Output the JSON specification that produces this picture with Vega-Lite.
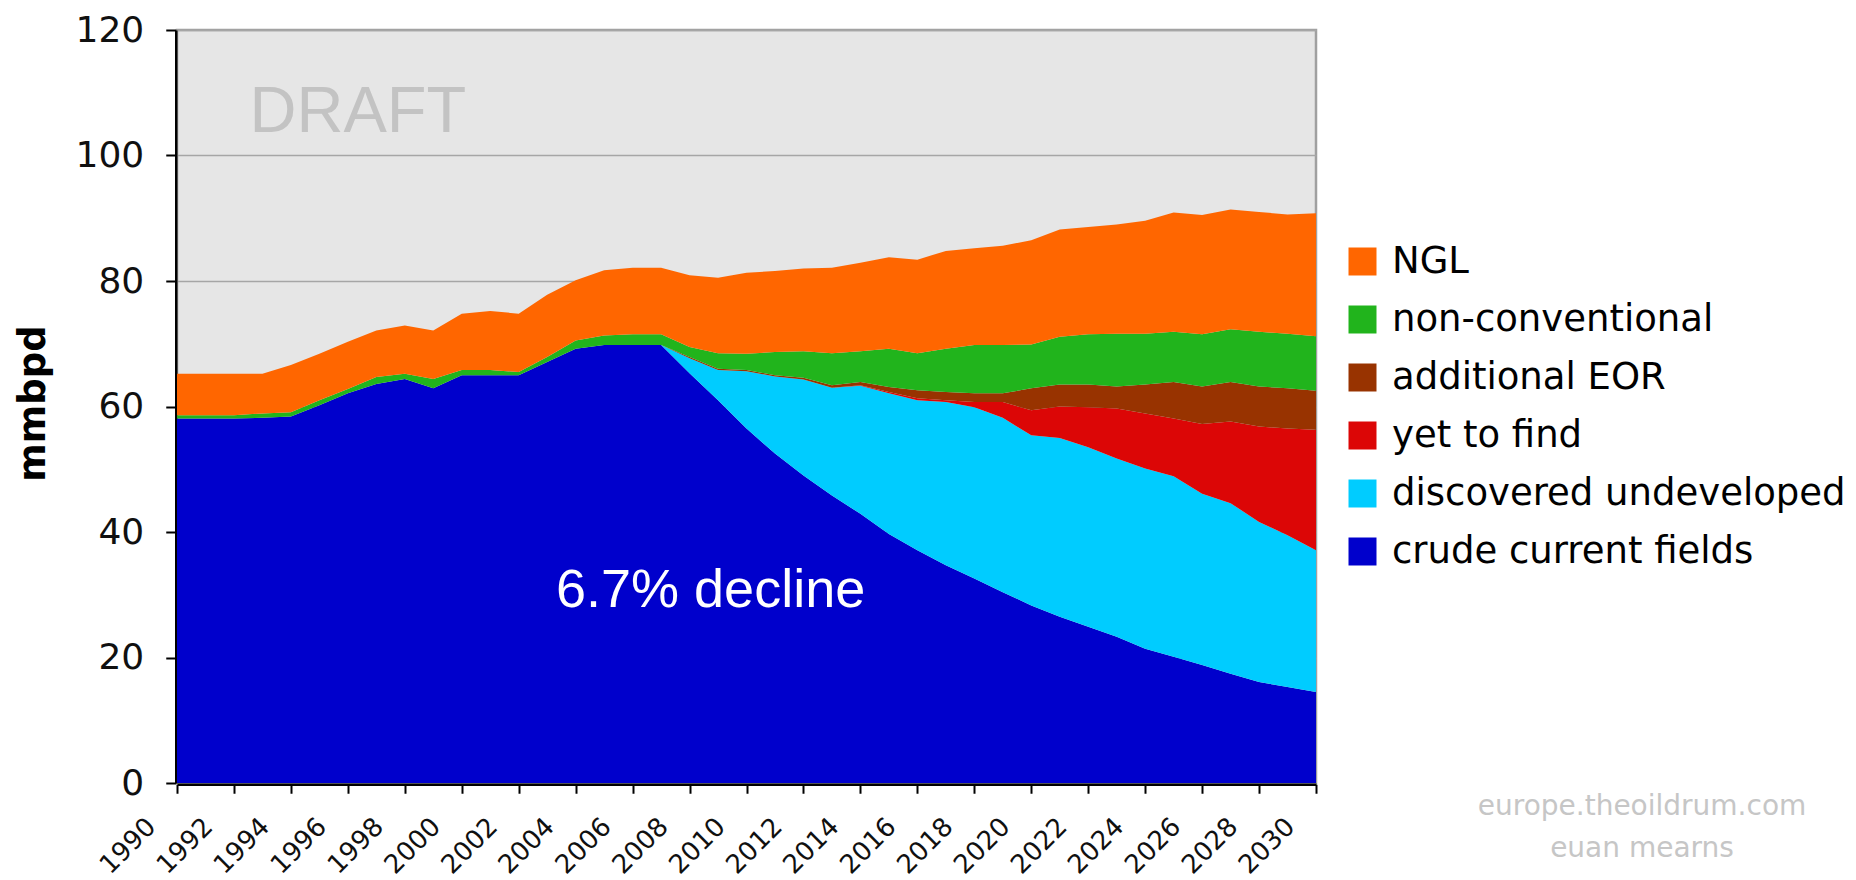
{
  "$schema": "https://vega.github.io/schema/vega-lite/v6.json",
  "width": 1139,
  "height": 753,
  "autosize": {"type": "none"},
  "padding": {"left": 177, "top": 30, "right": 540, "bottom": 97},
  "background": "white",
  "config": {
    "view": {"fill": "#e6e6e6", "stroke": "#a0a0a0", "strokeWidth": 2.5},
    "font": "DejaVu Sans"
  },
  "layer": [
    {
      "data": {
        "values": [
          {"year": 1990, "crude current fields": 58.1, "discovered undeveloped": 0, "yet to find": 0, "additional EOR": 0, "non-conventional": 0.5, "NGL": 6.6},
          {"year": 1991, "crude current fields": 58.1, "discovered undeveloped": 0, "yet to find": 0, "additional EOR": 0, "non-conventional": 0.5, "NGL": 6.6},
          {"year": 1992, "crude current fields": 58.1, "discovered undeveloped": 0, "yet to find": 0, "additional EOR": 0, "non-conventional": 0.5, "NGL": 6.6},
          {"year": 1993, "crude current fields": 58.2, "discovered undeveloped": 0, "yet to find": 0, "additional EOR": 0, "non-conventional": 0.7, "NGL": 6.3},
          {"year": 1994, "crude current fields": 58.4, "discovered undeveloped": 0, "yet to find": 0, "additional EOR": 0, "non-conventional": 0.7, "NGL": 7.5},
          {"year": 1995, "crude current fields": 60.2, "discovered undeveloped": 0, "yet to find": 0, "additional EOR": 0, "non-conventional": 0.8, "NGL": 7.4},
          {"year": 1996, "crude current fields": 62.1, "discovered undeveloped": 0, "yet to find": 0, "additional EOR": 0, "non-conventional": 0.7, "NGL": 7.5},
          {"year": 1997, "crude current fields": 63.6, "discovered undeveloped": 0, "yet to find": 0, "additional EOR": 0, "non-conventional": 1.1, "NGL": 7.4},
          {"year": 1998, "crude current fields": 64.4, "discovered undeveloped": 0, "yet to find": 0, "additional EOR": 0, "non-conventional": 0.8, "NGL": 7.7},
          {"year": 1999, "crude current fields": 62.9, "discovered undeveloped": 0, "yet to find": 0, "additional EOR": 0, "non-conventional": 1.5, "NGL": 7.7},
          {"year": 2000, "crude current fields": 65.0, "discovered undeveloped": 0, "yet to find": 0, "additional EOR": 0, "non-conventional": 0.8, "NGL": 9.0},
          {"year": 2001, "crude current fields": 65.0, "discovered undeveloped": 0, "yet to find": 0, "additional EOR": 0, "non-conventional": 0.8, "NGL": 9.4},
          {"year": 2002, "crude current fields": 65.0, "discovered undeveloped": 0, "yet to find": 0, "additional EOR": 0, "non-conventional": 0.5, "NGL": 9.3},
          {"year": 2003, "crude current fields": 67.1, "discovered undeveloped": 0, "yet to find": 0, "additional EOR": 0, "non-conventional": 0.8, "NGL": 9.9},
          {"year": 2004, "crude current fields": 69.2, "discovered undeveloped": 0, "yet to find": 0, "additional EOR": 0, "non-conventional": 1.3, "NGL": 9.6},
          {"year": 2005, "crude current fields": 69.8, "discovered undeveloped": 0, "yet to find": 0, "additional EOR": 0, "non-conventional": 1.5, "NGL": 10.4},
          {"year": 2006, "crude current fields": 69.8, "discovered undeveloped": 0, "yet to find": 0, "additional EOR": 0, "non-conventional": 1.7, "NGL": 10.6},
          {"year": 2007, "crude current fields": 69.8, "discovered undeveloped": 0, "yet to find": 0, "additional EOR": 0, "non-conventional": 1.7, "NGL": 10.6},
          {"year": 2008, "crude current fields": 65.3, "discovered undeveloped": 2.4, "yet to find": 0, "additional EOR": 0.2, "non-conventional": 1.6, "NGL": 11.4},
          {"year": 2009, "crude current fields": 61.0, "discovered undeveloped": 4.8, "yet to find": 0, "additional EOR": 0.2, "non-conventional": 2.5, "NGL": 12.0},
          {"year": 2010, "crude current fields": 56.5, "discovered undeveloped": 9.1, "yet to find": 0, "additional EOR": 0.2, "non-conventional": 2.6, "NGL": 12.9},
          {"year": 2011, "crude current fields": 52.5, "discovered undeveloped": 12.3, "yet to find": 0, "additional EOR": 0.2, "non-conventional": 3.7, "NGL": 12.9},
          {"year": 2012, "crude current fields": 49.0, "discovered undeveloped": 15.3, "yet to find": 0, "additional EOR": 0.3, "non-conventional": 4.2, "NGL": 13.2},
          {"year": 2013, "crude current fields": 45.8, "discovered undeveloped": 17.2, "yet to find": 0, "additional EOR": 0.4, "non-conventional": 5.1, "NGL": 13.6},
          {"year": 2014, "crude current fields": 42.9, "discovered undeveloped": 20.4, "yet to find": 0.1, "additional EOR": 0.5, "non-conventional": 4.9, "NGL": 14.1},
          {"year": 2015, "crude current fields": 39.7, "discovered undeveloped": 22.4, "yet to find": 0.2, "additional EOR": 0.8, "non-conventional": 6.1, "NGL": 14.6},
          {"year": 2016, "crude current fields": 37.1, "discovered undeveloped": 23.9, "yet to find": 0.3, "additional EOR": 1.3, "non-conventional": 5.9, "NGL": 14.9},
          {"year": 2017, "crude current fields": 34.7, "discovered undeveloped": 26.0, "yet to find": 0.3, "additional EOR": 1.3, "non-conventional": 6.9, "NGL": 15.6},
          {"year": 2018, "crude current fields": 32.6, "discovered undeveloped": 27.3, "yet to find": 0.8, "additional EOR": 1.4, "non-conventional": 7.7, "NGL": 15.4},
          {"year": 2019, "crude current fields": 30.4, "discovered undeveloped": 27.8, "yet to find": 2.5, "additional EOR": 1.4, "non-conventional": 7.7, "NGL": 15.8},
          {"year": 2020, "crude current fields": 28.3, "discovered undeveloped": 27.1, "yet to find": 4.0, "additional EOR": 3.5, "non-conventional": 7.0, "NGL": 16.6},
          {"year": 2021, "crude current fields": 26.5, "discovered undeveloped": 28.5, "yet to find": 5.0, "additional EOR": 3.5, "non-conventional": 7.6, "NGL": 17.1},
          {"year": 2022, "crude current fields": 24.9, "discovered undeveloped": 28.6, "yet to find": 6.4, "additional EOR": 3.6, "non-conventional": 8.0, "NGL": 17.1},
          {"year": 2023, "crude current fields": 23.3, "discovered undeveloped": 28.4, "yet to find": 8.0, "additional EOR": 3.5, "non-conventional": 8.4, "NGL": 17.4},
          {"year": 2024, "crude current fields": 21.4, "discovered undeveloped": 28.7, "yet to find": 8.8, "additional EOR": 4.6, "non-conventional": 8.1, "NGL": 18.0},
          {"year": 2025, "crude current fields": 20.1, "discovered undeveloped": 28.8, "yet to find": 9.2, "additional EOR": 5.8, "non-conventional": 8.0, "NGL": 19.0},
          {"year": 2026, "crude current fields": 18.8, "discovered undeveloped": 27.3, "yet to find": 11.1, "additional EOR": 6.0, "non-conventional": 8.3, "NGL": 19.0},
          {"year": 2027, "crude current fields": 17.4, "discovered undeveloped": 27.2, "yet to find": 13.0, "additional EOR": 6.3, "non-conventional": 8.4, "NGL": 19.1},
          {"year": 2028, "crude current fields": 16.1, "discovered undeveloped": 25.5, "yet to find": 15.2, "additional EOR": 6.4, "non-conventional": 8.7, "NGL": 19.1},
          {"year": 2029, "crude current fields": 15.3, "discovered undeveloped": 24.2, "yet to find": 17.0, "additional EOR": 6.4, "non-conventional": 8.7, "NGL": 19.0},
          {"year": 2030, "crude current fields": 14.5, "discovered undeveloped": 22.6, "yet to find": 19.2, "additional EOR": 6.2, "non-conventional": 8.7, "NGL": 19.6}
        ]
      },
      "transform": [
        {"fold": ["crude current fields", "discovered undeveloped", "yet to find", "additional EOR", "non-conventional", "NGL"], "as": ["series", "mmbpd"]},
        {"calculate": "indexof(['crude current fields', 'discovered undeveloped', 'yet to find', 'additional EOR', 'non-conventional', 'NGL'], datum.series)", "as": "stack_order"}
      ],
      "mark": {"type": "area", "interpolate": "linear"},
      "encoding": {
        "x": {
          "field": "year",
          "type": "quantitative",
          "scale": {"domain": [1990, 2030], "nice": false, "zero": false},
          "axis": {
            "title": null,
            "grid": false,
            "offset": 1.25,
            "values": [1990, 1991, 1992, 1993, 1994, 1995, 1996, 1997, 1998, 1999, 2000, 2001, 2002, 2003, 2004, 2005, 2006, 2007, 2008, 2009, 2010, 2011, 2012, 2013, 2014, 2015, 2016, 2017, 2018, 2019, 2020, 2021, 2022, 2023, 2024, 2025, 2026, 2027, 2028, 2029, 2030],
            "labelExpr": "datum.value % 2 === 0 ? '' + datum.value : ''",
            "labelOverlap": false,
            "labelFlush": false,
            "labelBound": false,
            "labelAngle": -45,
            "labelAlign": "right",
            "labelBaseline": "middle",
            "labelPadding": 29,
            "labelOffset": -26,
            "labelFont": "DejaVu Sans",
            "labelFontSize": 26,
            "labelColor": "#101010",
            "domainColor": "black",
            "domainWidth": 2.5,
            "tickColor": "black",
            "tickWidth": 2,
            "tickSize": 9,
            "zindex": 0
          }
        },
        "y": {
          "field": "mmbpd",
          "type": "quantitative",
          "stack": "zero",
          "scale": {"domain": [0, 120], "nice": false},
          "axis": {
            "values": [0, 20, 40, 60, 80, 100, 120],
            "offset": 1.25,
            "grid": true,
            "gridColor": "#a6a6a6",
            "gridWidth": 1.5,
            "domainColor": "black",
            "domainWidth": 2.5,
            "tickColor": "black",
            "tickWidth": 2,
            "tickSize": 10,
            "labelFont": "DejaVu Sans",
            "labelFontSize": 36,
            "labelColor": "#101010",
            "labelPadding": 22,
            "title": "mmbpd",
            "titleFont": "DejaVu Sans",
            "titleFontSize": 37,
            "titleFontWeight": "bold",
            "titleColor": "black",
            "titleAngle": -90,
            "titleX": -131,
            "titleY": 373,
            "titleAlign": "center",
            "titleBaseline": "alphabetic",
            "zindex": 0
          }
        },
        "color": {
          "field": "series",
          "type": "nominal",
          "scale": {
            "domain": ["NGL", "non-conventional", "additional EOR", "yet to find", "discovered undeveloped", "crude current fields"],
            "range": ["#ff6600", "#21b41c", "#983300", "#dc0606", "#00ccff", "#0000cc"]
          },
          "legend": {
            "title": null,
            "orient": "none",
            "legendX": 1167,
            "legendY": 213,
            "padding": 0,
            "symbolType": "square",
            "symbolSize": 784,
            "symbolStrokeWidth": 0,
            "symbolOpacity": 1,
            "labelFont": "DejaVu Sans",
            "labelFontSize": 37,
            "labelColor": "black",
            "labelOffset": 11,
            "labelLimit": 700,
            "rowPadding": 20
          }
        },
        "order": {"field": "stack_order", "type": "quantitative"}
      }
    },
    {
      "data": {"values": [{}]},
      "mark": {"type": "text", "text": "DRAFT", "font": "Liberation Sans", "fontSize": 65, "color": "#c3c3c3", "align": "left", "baseline": "alphabetic"},
      "encoding": {
        "x": {"datum": 1992.55, "type": "quantitative"},
        "y": {"datum": 103.7, "type": "quantitative"}
      }
    },
    {
      "data": {"values": [{}]},
      "mark": {"type": "text", "text": "6.7% decline", "font": "Liberation Sans", "fontSize": 54, "color": "white", "align": "left", "baseline": "alphabetic"},
      "encoding": {
        "x": {"datum": 2003.31, "type": "quantitative"},
        "y": {"datum": 28.1, "type": "quantitative"}
      }
    },
    {
      "data": {"values": [{}]},
      "mark": {"type": "text", "text": ["europe.theoildrum.com", "euan mearns"], "lineHeight": 41.7, "font": "DejaVu Sans", "fontSize": 28, "color": "#c6c6c6", "align": "center", "baseline": "alphabetic"},
      "encoding": {
        "x": {"datum": 2041.45, "type": "quantitative"},
        "y": {"datum": -5.1, "type": "quantitative"}
      }
    }
  ]
}
